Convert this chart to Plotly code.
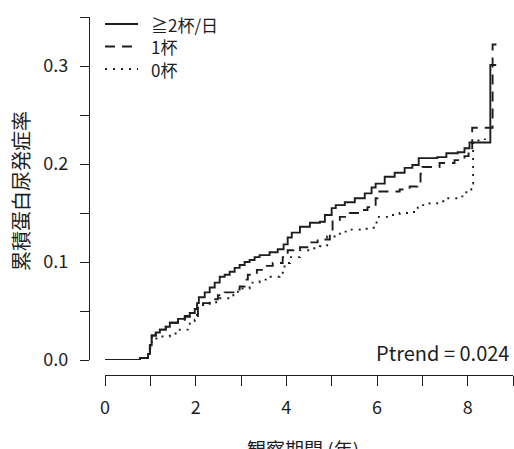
import plotly.graph_objects as go

# ---- data ----
series_names = ["≧2杯/日", "1杯", "0杯"]

t_two = [0, 0.77, 0.95, 0.99, 1.03, 1.12, 1.21, 1.34, 1.43, 1.61, 1.76, 1.87, 1.98, 2.03, 2.07,
         2.2, 2.31, 2.42, 2.53, 2.64, 2.75, 2.86, 2.97, 3.08, 3.19, 3.3, 3.41, 3.63, 3.81, 3.94,
         4.03, 4.12, 4.3, 4.52, 4.74, 4.85, 5.0, 5.09, 5.29, 5.51, 5.73, 5.88, 5.97, 6.17, 6.39,
         6.61, 6.78, 6.92, 7.33, 7.53, 7.78, 7.93, 8.04, 8.5, 8.63]
v_two = [0, 0.002, 0.006, 0.015, 0.025, 0.028, 0.031, 0.034, 0.038, 0.042, 0.045, 0.048, 0.052, 0.058, 0.064,
         0.069, 0.074, 0.079, 0.085, 0.087, 0.09, 0.094, 0.097, 0.1, 0.102, 0.105, 0.107, 0.11, 0.113, 0.118,
         0.125, 0.13, 0.136, 0.14, 0.141, 0.148, 0.155, 0.158, 0.161, 0.165, 0.17, 0.176, 0.18, 0.187, 0.191,
         0.196, 0.199, 0.206, 0.207, 0.211, 0.212, 0.216, 0.222, 0.301, 0.301]

t_one = [0, 0.77, 0.95, 0.99, 1.03, 1.12, 1.21, 1.34, 1.43, 1.61, 1.76, 1.9, 2.05, 2.16, 2.31,
         2.49, 2.64, 2.86, 2.97, 3.08, 3.15, 3.35, 3.52, 3.7, 3.92, 4.03, 4.3, 4.52, 4.69, 4.96,
         5.02, 5.18, 5.4, 5.62, 5.79, 5.97, 6.01, 6.5, 6.72, 6.89, 6.96, 7.0, 7.38, 7.71, 7.93,
         8.02, 8.1, 8.55, 8.7]
v_one = [0, 0.002, 0.006, 0.015, 0.025, 0.028, 0.031, 0.034, 0.038, 0.041, 0.044, 0.046, 0.054, 0.058, 0.062,
         0.066, 0.069, 0.072, 0.075, 0.082, 0.087, 0.092, 0.096, 0.099, 0.105, 0.112, 0.115, 0.12, 0.123, 0.13,
         0.143, 0.146, 0.15, 0.153, 0.156, 0.165, 0.172, 0.174, 0.177, 0.18, 0.19, 0.197, 0.201, 0.204, 0.208,
         0.213, 0.237, 0.322, 0.322]

t_zero = [0, 0.77, 0.95, 0.99, 1.03, 1.1, 1.21, 1.43, 1.65, 1.87, 1.98, 2.05, 2.11, 2.31, 2.53,
          2.75, 2.93, 3.19, 3.41, 3.63, 3.85, 3.96, 4.08, 4.3, 4.52, 4.74, 4.9, 5.18, 5.4, 5.62,
          5.84, 5.99, 6.28, 6.5, 6.72, 6.9, 7.16, 7.38, 7.49, 7.82, 7.97, 8.08, 8.12, 8.38]
v_zero = [0, 0.002, 0.006, 0.012, 0.02, 0.022, 0.024, 0.027, 0.031, 0.038, 0.041, 0.054, 0.056, 0.059, 0.063,
          0.066, 0.073, 0.079, 0.082, 0.085, 0.089, 0.099, 0.105, 0.112, 0.114, 0.116, 0.126, 0.131, 0.133, 0.134,
          0.135, 0.146, 0.148, 0.15, 0.151, 0.158, 0.16, 0.162, 0.165, 0.167, 0.174, 0.18, 0.224, 0.226]

x_tickvals = [0, 1, 2, 3, 4, 5, 6, 7, 8, 9]
x_ticktext = ["0", "", "2", "", "4", "", "6", "", "8", ""]
y_tickvals = [0, 0.05, 0.1, 0.15, 0.2, 0.25, 0.3, 0.35]
y_ticktext = ["0.0", "", "0.1", "", "0.2", "", "0.3", ""]

ptrend_text = "Ptrend = 0.024"
x_title = "観察期間 (年)"
y_title = "累積蛋白尿発症率"

# ---- figure ----
W, H = 514, 449
FONT = "Noto Sans CJK JP, Liberation Sans, sans-serif"
INK = "#1e1e1e"
dashes = ["solid", "10px,7px", "2px,6px"]

fig = go.Figure()
for name, t, v, d in zip(series_names, [t_two, t_one, t_zero], [v_two, v_one, v_zero], dashes):
    fig.add_trace(go.Scatter(x=t, y=v, mode="lines", name=name, line=dict(shape="hv", color=INK, width=1.9, dash=d),
                             showlegend=False, hoverinfo="skip"))

def px_x(p):
    return p / W

def px_y(p):
    return (H - p) / H

# legend drawn as layout shapes + text
legend_rows = [24, 46.5, 69]
for name, d, ry in zip(series_names, dashes, legend_rows):
    fig.add_shape(type="line", xref="paper", yref="paper", x0=px_x(105), x1=px_x(138), y0=px_y(ry), y1=px_y(ry),
                  line=dict(color=INK, width=1.8, dash=d))
    fig.add_annotation(xref="paper", yref="paper", x=px_x(149), y=px_y(ry), text=name, showarrow=False,
                       xanchor="left", yanchor="middle", font=dict(family=FONT, size=17, color=INK))

fig.add_annotation(xref="paper", yref="paper", x=px_x(511), y=px_y(352), text=ptrend_text, showarrow=False,
                   xanchor="right", yanchor="middle", font=dict(family=FONT, size=20, color=INK))
fig.add_annotation(xref="paper", yref="paper", x=px_x(303), y=px_y(433), text=x_title, showarrow=False,
                   xanchor="center", yanchor="top", font=dict(family=FONT, size=19, color=INK))
fig.add_annotation(xref="paper", yref="paper", x=px_x(20), y=px_y(191), text=y_title, showarrow=False,
                   textangle=-90, xanchor="center", yanchor="middle", font=dict(family=FONT, size=20, color=INK))

fig.update_layout(
    width=W, height=H,
    margin=dict(l=0, r=0, t=0, b=0, autoexpand=False),
    paper_bgcolor="white", plot_bgcolor="white",
    font=dict(family=FONT, size=18, color=INK),
    xaxis=dict(domain=[px_x(105), px_x(513)], range=[0, 9], anchor="free", position=px_y(375),
               showline=True, linecolor=INK, linewidth=1.2, ticks="outside", ticklen=10, tickwidth=1.2,
               tickcolor=INK, tickvals=x_tickvals, ticktext=x_ticktext, showgrid=False, zeroline=False,
               tickfont=dict(family=FONT, size=18, color=INK), ticklabelstandoff=6, automargin=False),
    yaxis=dict(domain=[px_y(360), px_y(17)], range=[0, 0.35], anchor="free", position=px_x(89),
               showline=True, linecolor=INK, linewidth=1.2, ticks="outside", ticklen=9, tickwidth=1.2,
               tickcolor=INK, tickvals=y_tickvals, ticktext=y_ticktext, showgrid=False, zeroline=False,
               tickfont=dict(family=FONT, size=18, color=INK), ticklabelstandoff=8, automargin=False),
)

fig.write_html("out.html", config={"displayModeBar": False},
               post_script="document.body.style.margin='0';document.body.style.overflow='hidden';")
